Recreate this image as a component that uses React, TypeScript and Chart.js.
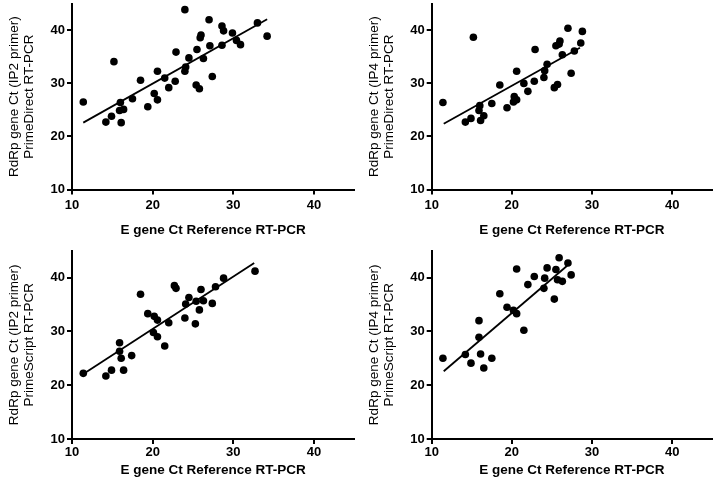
import React, { useEffect, useRef } from 'react';
import { Chart, registerables } from 'chart.js';

Chart.register(...registerables);

const FONT = '"Liberation Sans", Arial, Helvetica, sans-serif';
const X_TITLE = 'E gene Ct Reference RT-PCR';
const AXIS_MIN = 10;
const AXIS_MAX = 45;
const TICK_STEP = 10;
const TICK_VALUES = [10, 20, 30, 40];

// Panel A: IP2 primer, PrimeDirect
const p1X = [11.4, 14.2, 14.9, 15.2, 16.0, 15.9, 16.4, 16.1, 17.5, 18.5, 19.4, 20.2, 20.6, 20.6, 21.5, 22.0, 22.8, 22.9, 24.0, 24.0, 24.1, 24.5, 25.4, 25.8, 25.5, 25.9, 26.0, 26.3, 27.0, 27.1, 27.4, 28.6, 28.6, 28.8, 29.9, 30.4, 30.9, 33.0, 34.2];
const p1Y = [26.5, 22.7, 23.8, 34.1, 26.4, 24.9, 25.1, 22.6, 27.1, 30.6, 25.6, 28.1, 26.9, 32.3, 31.0, 29.2, 30.4, 35.9, 43.9, 32.3, 33.1, 34.8, 29.7, 29.0, 36.4, 38.6, 39.1, 34.7, 42.0, 37.1, 31.3, 37.2, 40.8, 39.9, 39.5, 38.1, 37.3, 41.4, 38.9];
const p1FitX = [11.4, 34.2];
const p1FitY = [22.6, 42.1];
const p1Title = ['RdRp gene Ct (IP2 primer)', 'PrimeDirect RT-PCR'];

// Panel B: IP4 primer, PrimeDirect
const p2X = [11.4, 14.2, 14.9, 15.2, 16.0, 15.9, 16.5, 16.1, 17.5, 18.5, 19.4, 20.2, 20.3, 20.6, 20.6, 21.5, 22.0, 22.8, 22.9, 24.0, 24.1, 24.4, 25.3, 25.7, 25.5, 25.9, 26.0, 26.3, 27.0, 27.4, 27.8, 28.6, 28.8];
const p2Y = [26.4, 22.7, 23.4, 38.7, 25.8, 24.9, 23.9, 23.0, 26.2, 29.7, 25.4, 26.5, 27.5, 26.9, 32.3, 30.0, 28.5, 30.4, 36.4, 31.1, 32.4, 33.6, 29.2, 29.8, 37.1, 37.4, 38.0, 35.4, 40.4, 31.9, 36.1, 37.6, 39.8];
const p2FitX = [11.5, 28.5];
const p2FitY = [22.4, 36.7];
const p2Title = ['RdRp gene Ct (IP4 primer)', 'PrimeDirect RT-PCR'];

// Panel C: IP2 primer, PrimeScript
const p3X = [11.4, 14.2, 14.9, 15.9, 15.9, 16.1, 16.4, 17.4, 18.5, 19.4, 20.2, 20.6, 20.1, 20.6, 21.5, 22.0, 22.7, 22.9, 24.0, 24.1, 24.5, 25.3, 25.4, 25.8, 26.0, 26.3, 27.4, 27.8, 28.8, 32.7];
const p3Y = [22.2, 21.7, 22.8, 27.9, 26.3, 25.0, 22.8, 25.5, 36.9, 33.3, 32.8, 32.1, 29.8, 29.0, 27.3, 31.6, 38.5, 38.0, 32.5, 35.1, 36.3, 31.4, 35.6, 34.0, 37.8, 35.7, 35.2, 38.3, 39.9, 41.2];
const p3FitX = [11.4, 32.6];
const p3FitY = [22.1, 42.7];
const p3Title = ['RdRp gene Ct (IP2 primer)', 'PrimeScript RT-PCR'];

// Panel D: IP4 primer, PrimeScript
const p4X = [11.4, 14.2, 14.9, 15.9, 15.9, 16.1, 16.5, 17.5, 18.5, 19.4, 20.2, 20.6, 20.6, 21.5, 22.0, 22.8, 24.0, 24.1, 24.4, 25.3, 25.5, 25.7, 25.9, 26.3, 27.0, 27.4];
const p4Y = [25.0, 25.7, 24.1, 32.0, 28.9, 25.8, 23.2, 25.0, 37.0, 34.5, 33.9, 33.3, 41.6, 30.2, 38.7, 40.2, 38.0, 39.9, 41.8, 36.0, 41.5, 39.6, 43.7, 39.3, 42.7, 40.5];
const p4FitX = [11.5, 26.9];
const p4FitY = [22.6, 42.2];
const p4Title = ['RdRp gene Ct (IP4 primer)', 'PrimeScript RT-PCR'];

type PanelCfg = {
  xs: number[]; ys: number[]; fitX: number[]; fitY: number[]; yTitle: string[];
  cx: number; cy: number; w: number; h: number;
  left: number; right: number; top: number; bottom: number;
  xTickPad: number; xTitlePad: number; yTitlePad: number;
};

const panels: PanelCfg[] = [
  { xs: p1X, ys: p1Y, fitX: p1FitX, fitY: p1FitY, yTitle: p1Title,
    cx: 0, cy: 0, w: 358, h: 241, left: 72, right: 355.3, top: 1.1, bottom: 189.5,
    xTickPad: 3, xTitlePad: 3, yTitlePad: 6.5 },
  { xs: p2X, ys: p2Y, fitX: p2FitX, fitY: p2FitY, yTitle: p2Title,
    cx: 358, cy: 0, w: 358, h: 241, left: 73.7, right: 356.5, top: 1.1, bottom: 189.5,
    xTickPad: 3, xTitlePad: 3, yTitlePad: 8.8 },
  { xs: p3X, ys: p3Y, fitX: p3FitX, fitY: p3FitY, yTitle: p3Title,
    cx: 0, cy: 241, w: 358, h: 242, left: 72, right: 355.3, top: 9.7, bottom: 198,
    xTickPad: 1, xTitlePad: 5, yTitlePad: 6.5 },
  { xs: p4X, ys: p4Y, fitX: p4FitX, fitY: p4FitY, yTitle: p4Title,
    cx: 358, cy: 241, w: 358, h: 242, left: 73.7, right: 356.5, top: 9.7, bottom: 198,
    xTickPad: 1, xTitlePad: 5, yTitlePad: 8.8 },
];

function Panel({ cfg }: { cfg: PanelCfg }) {
  const ref = useRef<HTMLCanvasElement | null>(null);
  useEffect(() => {
    if (!ref.current) return;
    const axisCommon = {
      type: 'linear' as const,
      min: AXIS_MIN,
      max: AXIS_MAX,
      bounds: 'data' as const,
      afterBuildTicks: (s: any) => {
        s.ticks = TICK_VALUES.map((v) => ({ value: v }));
      },
      grid: { drawOnChartArea: false, drawTicks: true, tickLength: 5, color: '#000', lineWidth: 2 },
      border: { display: true, color: '#000', width: 2 },
    };
    const chart = new Chart(ref.current, {
      type: 'scatter',
      data: {
        datasets: [
          {
            data: cfg.xs.map((x, i) => ({ x, y: cfg.ys[i] })),
            backgroundColor: '#000',
            borderColor: '#000',
            borderWidth: 0,
            pointRadius: 3.8,
            pointHoverRadius: 3.8,
          },
          {
            type: 'line',
            data: cfg.fitX.map((x, i) => ({ x, y: cfg.fitY[i] })),
            borderColor: '#000',
            borderWidth: 1.8,
            pointRadius: 0,
            fill: false,
            showLine: true,
          } as any,
        ],
      },
      options: {
        animation: false,
        responsive: false,
        events: [],
        layout: { padding: { left: 0, top: cfg.top, right: cfg.w - cfg.right, bottom: 0 } },
        plugins: { legend: { display: false }, tooltip: { enabled: false } },
        scales: {
          x: {
            ...axisCommon,
            position: 'bottom',
            afterFit: (s: any) => {
              s.height = cfg.h - cfg.bottom;
              s.paddingLeft = 0; s.paddingRight = 0;
            },
            ticks: {
              stepSize: TICK_STEP, color: '#000', maxRotation: 0,
              padding: cfg.xTickPad,
              font: { family: FONT, size: 13, weight: 'bold' },
            },
            title: {
              display: true, text: X_TITLE, color: '#000',
              font: { family: FONT, size: 13.5, weight: 'bold' },
              padding: { top: 0, bottom: cfg.xTitlePad },
            },
          },
          y: {
            ...axisCommon,
            position: 'left',
            afterFit: (s: any) => {
              s.width = cfg.left;
              s.paddingTop = 0; s.paddingBottom = 0;
            },
            ticks: {
              stepSize: TICK_STEP, color: '#000',
              padding: 2,
              font: { family: FONT, size: 13, weight: 'bold' },
            },
            title: {
              display: true, text: cfg.yTitle, color: '#000',
              font: { family: FONT, size: 13.5, weight: 'normal', lineHeight: '15px' },
              padding: { top: cfg.yTitlePad, bottom: 0 },
            },
          },
        },
      } as any,
    });
    return () => chart.destroy();
  }, [cfg]);
  return (
    <canvas
      ref={ref}
      width={cfg.w}
      height={cfg.h}
      style={{ position: 'absolute', left: cfg.cx, top: cfg.cy, width: cfg.w, height: cfg.h }}
    />
  );
}

export default function App() {
  return (
    <div style={{ position: 'absolute', left: 0, top: 0, width: 716, height: 483, background: '#fff', overflow: 'hidden' }}>
      {panels.map((p, i) => <Panel key={i} cfg={p} />)}
    </div>
  );
}
